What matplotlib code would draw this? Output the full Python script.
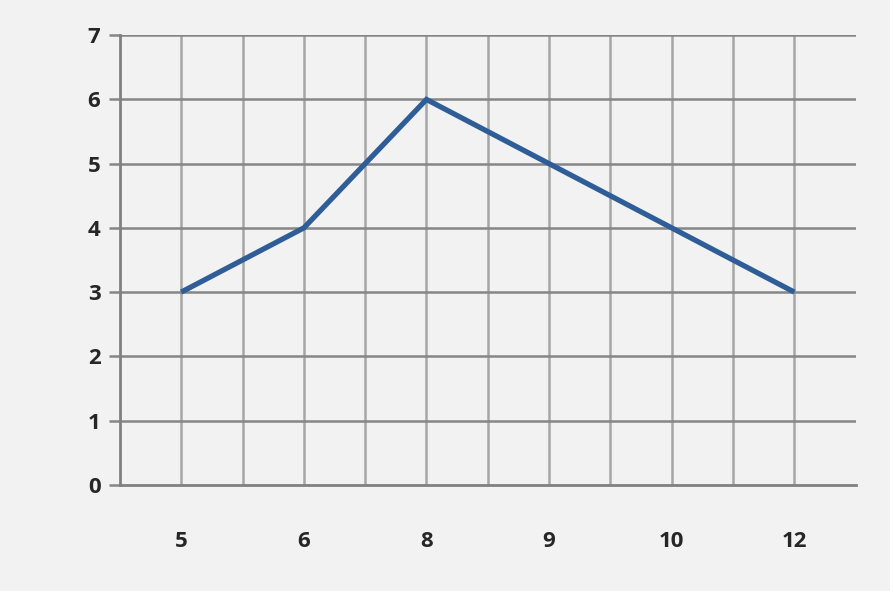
import matplotlib.pyplot as plt
from matplotlib.patches import Rectangle

# data
x_labels = ["5", "6", "8", "9", "10", "12"]
y_values = [3, 4, 6, 5, 4, 3]

bg = "#f2f2f2"
fig = plt.figure(figsize=(8.95, 5.97), dpi=100, facecolor="white")
fig.patches.append(Rectangle((0, 0.01), 0.994, 0.99, transform=fig.transFigure,
                             facecolor=bg, edgecolor="none", zorder=-10))
ax = fig.add_axes([0.134, 0.188, 0.822, 0.753])
ax.set_facecolor(bg)

pos = list(range(len(x_labels)))
ax.plot(pos, y_values, color="#2f5d98", linewidth=3.8, solid_capstyle="butt",
        solid_joinstyle="miter", zorder=3)

ax.set_xlim(-0.5, len(x_labels) - 0.5)
ax.set_ylim(0, 7)

# vertical gridlines at category centres and boundaries
for v in [i * 0.5 - 0.5 for i in range(1, 2 * len(x_labels))]:
    ax.axvline(v, color="#a6a6a6", linewidth=1.8, zorder=1)
for h in range(1, 8):
    ax.axhline(h, color="#868686", linewidth=1.8, zorder=1)

ax.set_xticks(pos)
ax.set_xticklabels(x_labels)
ax.set_yticks(range(0, 8))

for side in ["top", "right"]:
    ax.spines[side].set_visible(False)
ax.spines["left"].set_color("#808080")
ax.spines["left"].set_linewidth(2.0)
ax.spines["bottom"].set_color("#808080")
ax.spines["bottom"].set_linewidth(2.0)
ax.spines["bottom"].set_zorder(2)

ax.tick_params(axis="x", length=0, pad=33, labelsize=16, labelcolor="#262626")
ax.tick_params(axis="y", length=8, width=1.8, color="#868686", pad=6,
               labelsize=16, labelcolor="#262626")
for lab in ax.get_xticklabels() + ax.get_yticklabels():
    lab.set_fontfamily("Open Sans")
    lab.set_fontweight("bold")

fig.savefig("out.png", dpi=100, facecolor=fig.get_facecolor())
